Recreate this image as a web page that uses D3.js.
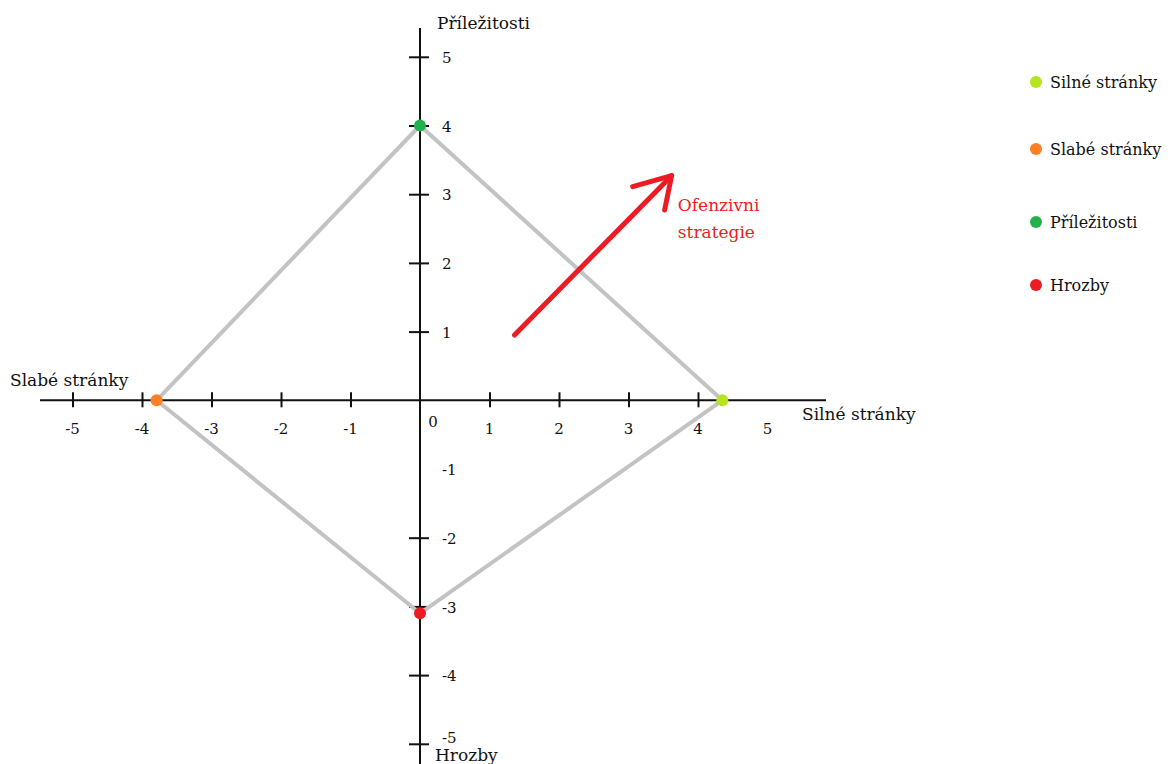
<!DOCTYPE html>
<meta charset="utf-8">
<script src="https://d3js.org/d3.v7.min.js"></script>
<style>
  body { margin: 0; background: #fff; }
  text { font-family: "DejaVu Serif", serif; fill: #111; }
</style>
<div id="swot"></div>
<script>

// data
var categories = ["Silné stránky", "Slabé stránky", "Příležitosti", "Hrozby"];
var colors = ["#b5e61d", "#ff7f27", "#22b14c", "#ed1c24"];
var xValues = [4.35, -3.79, 0, 0];
var yValues = [0, 0, 4, -3.1];

var xTickValues = [-5, -4, -3, -2, -1, 1, 2, 3, 4];
var yTickValues = [-5, -4, -3, -2, 1, 2, 3, 4, 5];
var xTickLabels = [-5, -4, -3, -2, -1, 1, 2, 3, 4, 5];
var yTickLabels = [-5, -4, -3, -2, -1, 1, 2, 3, 4, 5];

// arrow "Ofenzivni strategie" in data units
var arrowLine = [[1.36, 0.95], [3.62, 3.27]];
var arrowHead = [[3.06, 3.11], [3.62, 3.27], [3.52, 2.77]];
var arrowText = ["Ofenzivni", "strategie"];

var width = 1171, height = 764;

var svg = d3.select("#swot")
  .append("svg")
    .attr("width", width)
    .attr("height", height);

var x = d3.scaleLinear().domain([-5, 5]).range([72.5, 767.5]);
var y = d3.scaleLinear().domain([-5, 5]).range([743.8, 56.8]);

// axis lines
svg.append("line")
  .attr("x1", 40).attr("x2", 826)
  .attr("y1", y(0)).attr("y2", y(0))
  .attr("stroke", "#111").attr("stroke-width", 2);
svg.append("line")
  .attr("x1", x(0)).attr("x2", x(0))
  .attr("y1", 28).attr("y2", height)
  .attr("stroke", "#111").attr("stroke-width", 2);

// tick marks
var gx = svg.append("g")
  .attr("transform", "translate(0," + (y(0) - 8) + ")")
  .call(d3.axisBottom(x).tickValues(xTickValues).tickSize(15).tickFormat(""));
gx.select(".domain").remove();
gx.selectAll("line").attr("stroke", "#111").attr("stroke-width", 2);

var gy = svg.append("g")
  .attr("transform", "translate(" + (x(0) - 11) + ",0)")
  .call(d3.axisRight(y).tickValues(yTickValues).tickSize(20).tickFormat(""));
gy.select(".domain").remove();
gy.selectAll("line").attr("stroke", "#111").attr("stroke-width", 2);

// tick labels
svg.selectAll("xlab")
  .data(xTickLabels)
  .enter()
  .append("text")
    .attr("x", function(d) { return x(d); })
    .attr("y", y(0) + 28)
    .attr("text-anchor", "middle")
    .attr("dy", "0.35em")
    .style("font-size", "15px")
    .text(function(d) { return d; });

svg.append("text")
  .attr("x", x(0) + 13).attr("y", y(0) + 21)
  .attr("text-anchor", "middle").attr("dy", "0.35em")
  .style("font-size", "15px")
  .text("0");

svg.selectAll("ylab")
  .data(yTickLabels)
  .enter()
  .append("text")
    .attr("x", x(0) + 22)
    .attr("y", function(d) { return d === -5 ? y(d) - 6 : y(d) + 1; })
    .attr("dy", "0.35em")
    .style("font-size", "15px")
    .text(function(d) { return d; });

// axis titles
svg.append("text").attr("x", 437).attr("y", 23).attr("dy", "0.35em").style("font-size", "17px").text("Příležitosti");
svg.append("text").attr("x", 435).attr("y", 755).attr("dy", "0.35em").style("font-size", "17px").text("Hrozby");
svg.append("text").attr("x", 10).attr("y", 380).attr("dy", "0.35em").style("font-size", "17px").text("Slabé stránky");
svg.append("text").attr("x", 802).attr("y", 414).attr("dy", "0.35em").style("font-size", "17px").text("Silné stránky");

// grey polygon
var order = [0, 2, 1, 3];
svg.append("path")
  .datum(order)
  .attr("d", d3.line()
    .x(function(i) { return x(xValues[i]); })
    .y(function(i) { return y(yValues[i]); })
    .curve(d3.curveLinearClosed))
  .attr("fill", "none")
  .attr("stroke", "#c3c3c3")
  .attr("stroke-width", 4)
  .attr("stroke-linejoin", "round");

// points
svg.selectAll("pt")
  .data(categories)
  .enter()
  .append("circle")
    .attr("cx", function(d, i) { return x(xValues[i]); })
    .attr("cy", function(d, i) { return y(yValues[i]); })
    .attr("r", 6)
    .style("fill", function(d, i) { return colors[i]; });

// arrow
var arrow = d3.line().x(function(d) { return x(d[0]); }).y(function(d) { return y(d[1]); });
svg.append("path").attr("d", arrow(arrowLine))
  .attr("stroke", "#ed1c24").attr("stroke-width", 5).attr("stroke-linecap", "round").attr("fill", "none");
svg.append("path").attr("d", arrow(arrowHead))
  .attr("stroke", "#ed1c24").attr("stroke-width", 5).attr("stroke-linecap", "round")
  .attr("stroke-linejoin", "round").attr("fill", "none");
svg.selectAll("atext")
  .data(arrowText)
  .enter()
  .append("text")
    .attr("x", x(3.71))
    .attr("y", function(d, i) { return y(2.84) + i * 27; })
    .attr("dy", "0.35em")
    .style("font-size", "17px")
    .style("fill", "#ed1c24")
    .text(function(d) { return d; });

// legend
var legendY = [82, 149, 222, 285];
var legend = svg.selectAll("leg")
  .data(categories)
  .enter()
  .append("g")
    .attr("transform", function(d, i) { return "translate(1036," + legendY[i] + ")"; });
legend.append("circle").attr("r", 6).style("fill", function(d, i) { return colors[i]; });
legend.append("text").attr("x", 14).attr("dy", "0.35em").style("font-size", "16px").text(function(d) { return d; });

</script>
